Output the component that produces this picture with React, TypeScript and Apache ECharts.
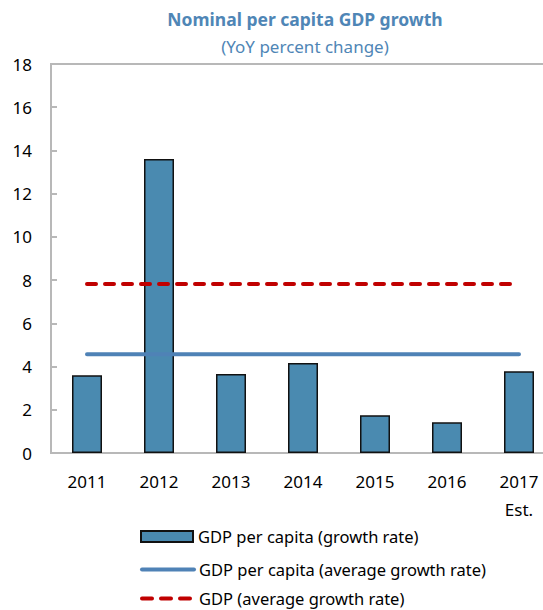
import React, { useEffect, useRef } from "react";
import * as echarts from "echarts";

const categories = ["2011", "2012", "2013", "2014", "2015", "2016", "2017\nEst."];
const perCapitaGrowth = [3.6, 13.6, 3.65, 4.17, 1.75, 1.42, 3.78];
const perCapitaAverage = [4.57, 4.57, 4.57, 4.57, 4.57, 4.57, 4.57];
const gdpAverage = [7.82, 7.82, 7.82, 7.82, 7.82, 7.82, 7.82];
const yTicks = { min: 0, max: 18, interval: 2 };
const legendNames = [
  "GDP per capita (growth rate)",
  "GDP per capita (average growth rate)",
  "GDP (average growth rate)",
];

const FONT = "'Noto Sans', 'Open Sans', sans-serif";

export default function App() {
  const ref = useRef<HTMLDivElement>(null);
  useEffect(() => {
    if (!ref.current) return;
    const chart = echarts.init(ref.current, null, { renderer: "svg" });
    const legendTops = [528, 561, 590];
    const legendItems = [
      { name: legendNames[0], icon: "rect", itemStyle: { borderColor: "#111", borderWidth: 2 } },
      {
        name: legendNames[1],
        itemStyle: { opacity: 0, borderWidth: 0 },
        lineStyle: { width: 4, color: "#4f82b6", cap: "round" },
      },
      {
        name: legendNames[2],
        itemStyle: { opacity: 0, borderWidth: 0 },
        lineStyle: { width: 4, color: "#c00000", type: [10, 9], cap: "round" },
      },
    ];
    const legend = legendItems.map((item, i) => ({
      orient: "vertical",
      left: 140,
      top: legendTops[i],
      padding: 0,
      itemWidth: 52,
      itemHeight: 11,
      textStyle: { fontSize: 16.5, color: "#000", fontFamily: FONT },
      data: [item],
    }));
    chart.setOption({
      animation: false,
      textStyle: { fontFamily: FONT },
      graphic: [
        {
          type: "text",
          x: 305,
          y: 19,
          style: {
            text: "Nominal per capita GDP growth",
            fill: "#4f86b6",
            font: `bold 17.5px ${FONT}`,
            textAlign: "center",
            textVerticalAlign: "middle",
          },
        },
        {
          type: "text",
          x: 305,
          y: 46,
          style: {
            text: "(YoY percent change)",
            fill: "#4f86b6",
            font: `17px ${FONT}`,
            textAlign: "center",
            textVerticalAlign: "middle",
          },
        },
      ],
      grid: {
        left: 51,
        right: 5,
        top: 64,
        bottom: 157,
        show: true,
        borderColor: "#b8b8b8",
        borderWidth: 2,
        containLabel: false,
        outerBoundsMode: "none",
      },
      legend,
      xAxis: {
        type: "category",
        data: categories,
        boundaryGap: true,
        axisLine: { lineStyle: { color: "#b8b8b8", width: 2 } },
        axisTick: { inside: true, length: 6, lineStyle: { color: "#b8b8b8", width: 2 } },
        axisLabel: { color: "#000", fontSize: 17, margin: 14, lineHeight: 28, fontFamily: FONT },
      },
      yAxis: {
        type: "value",
        min: yTicks.min,
        max: yTicks.max,
        interval: yTicks.interval,
        axisLine: { show: true, lineStyle: { color: "#b8b8b8", width: 2 } },
        axisTick: { show: true, inside: true, length: 6, lineStyle: { color: "#b8b8b8", width: 2 } },
        splitLine: { show: false },
        axisLabel: { color: "#000", fontSize: 17, margin: 19, fontFamily: FONT },
      },
      series: [
        {
          name: legendNames[0],
          type: "bar",
          data: perCapitaGrowth,
          barWidth: 30,
          itemStyle: { color: "#4a8ab0", borderColor: "#111", borderWidth: 1.5 },
          z: 2,
        },
        {
          name: legendNames[1],
          type: "line",
          data: perCapitaAverage,
          symbol: "none",
          lineStyle: { color: "#4f82b6", width: 4, cap: "round" },
          itemStyle: { color: "#4f82b6" },
          z: 3,
        },
        {
          name: legendNames[2],
          type: "line",
          data: gdpAverage,
          symbol: "none",
          lineStyle: { color: "#c00000", width: 4, type: [9, 9], cap: "round" },
          itemStyle: { color: "#c00000" },
          z: 4,
        },
      ],
    });
    return () => chart.dispose();
  }, []);
  return (
    <div
      style={{
        position: "fixed",
        left: 0,
        top: 0,
        width: 543,
        height: 610,
        overflow: "hidden",
        background: "#fff",
      }}
    >
      <div ref={ref} style={{ width: 560, height: 610 }} />
    </div>
  );
}
